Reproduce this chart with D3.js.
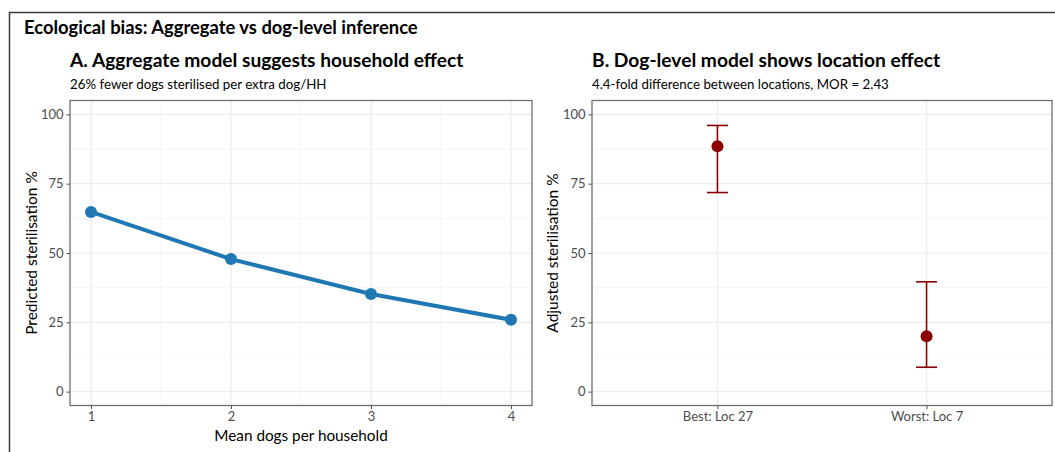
<!DOCTYPE html>
<html><head><meta charset="utf-8">
<script src="https://cdn.jsdelivr.net/npm/d3@7"></script>
<style>body{margin:0;background:#fff}svg{display:block}text{font-family:Lato,"Open Sans",sans-serif}</style>
</head><body>
<svg id="c" width="1055" height="452"></svg>
<script>
// ---- data ----
const dogsPerHH = [1, 2, 3, 4];
const predictedSter = [64.8, 47.8, 35.2, 25.9];
const locations = ["Best: Loc 27", "Worst: Loc 7"];
const adjustedSter = [88.5, 20.0];
const adjLower = [71.8, 8.8];
const adjUpper = [96.0, 39.6];
const yTicks = [0, 25, 50, 75, 100];
const yMinor = [12.5, 37.5, 62.5, 87.5];
const xTicksA = [1, 2, 3, 4];
const xMinorA = [1.5, 2.5, 3.5];

const svg = d3.select("#c");
const blue = "#1f78b4", red = "#8b0000";
const gridCol = "#ebebeb", borderCol = "#6e6e6e", tickCol = "#4d4d4d";

// outer frame (cropped)
svg.append("path").attr("d","M9.5,460 V12.5 H1060").attr("fill","none").attr("stroke","#3a3a3a").attr("stroke-width",1.5);

svg.append("text").attr("x",24).attr("y",33.5).attr("font-size",18.4).attr("font-weight",700).attr("fill","#000")
  .text("Ecological bias: Aggregate vs dog-level inference");

function panel(o){
  const g = svg.append("g");
  const {x0,x1,y0,y1} = o;
  const y = d3.scaleLinear().domain([-5,105]).range([y1,y0]);
  // grid
  g.selectAll(".ym").data(yMinor).join("line").attr("x1",x0).attr("x2",x1)
    .attr("y1",d=>y(d)).attr("y2",d=>y(d)).attr("stroke","#f4f4f4").attr("stroke-width",0.8);
  (o.xMinor||[]).forEach(v=>g.append("line").attr("x1",o.x(v)).attr("x2",o.x(v)).attr("y1",y0).attr("y2",y1).attr("stroke","#f4f4f4").attr("stroke-width",0.8));
  g.selectAll(".yM").data(yTicks).join("line").attr("x1",x0).attr("x2",x1)
    .attr("y1",d=>y(d)).attr("y2",d=>y(d)).attr("stroke",gridCol).attr("stroke-width",1.2);
  o.xMajor.forEach(v=>g.append("line").attr("x1",o.x(v)).attr("x2",o.x(v)).attr("y1",y0).attr("y2",y1).attr("stroke",gridCol).attr("stroke-width",1.2));
  // axes
  const ya = g.append("g").attr("transform",`translate(${x0},0)`).call(d3.axisLeft(y).tickValues(yTicks).tickSize(3.5).tickPadding(3));
  ya.select(".domain").remove();
  ya.selectAll("line").attr("stroke",tickCol);
  ya.selectAll("text").attr("font-size",13).attr("fill",tickCol).attr("font-family","Lato,sans-serif");
  const xa = g.append("g").attr("transform",`translate(0,${y1})`).call(o.xAxis.tickSize(3.5).tickPadding(3));
  xa.select(".domain").remove();
  xa.selectAll("line").attr("stroke",tickCol);
  xa.selectAll("text").attr("font-size",13).attr("fill",tickCol).attr("font-family","Lato,sans-serif");
  // titles
  svg.append("text").attr("x",x0).attr("y",y0-33.5).attr("font-size",19.2).attr("font-weight",700).text(o.title);
  svg.append("text").attr("x",x0).attr("y",y0-11.5).attr("font-size",13.3).text(o.sub);
  svg.append("text").attr("transform",`translate(${o.ytx},${(y0+y1)/2}) rotate(-90)`).attr("text-anchor","middle")
    .attr("font-size",15.5).text(o.ytitle);
  if(o.xtitle) svg.append("text").attr("x",(x0+x1)/2).attr("y",y1+35.5).attr("text-anchor","middle").attr("font-size",15.3).text(o.xtitle);
  o.draw(g,y);
  g.append("rect").attr("x",x0).attr("y",y0).attr("width",x1-x0).attr("height",y1-y0)
    .attr("fill","none").attr("stroke",borderCol).attr("stroke-width",1.3);
}

// Panel A
const xA = d3.scaleLinear().domain([0.85,4.15]).range([70,532]);
panel({x0:70,x1:532,y0:100.5,y1:405.5,x:xA,xMajor:xTicksA,xMinor:xMinorA,
  xAxis:d3.axisBottom(xA).tickValues(xTicksA).tickFormat(d3.format("d")),
  title:"A. Aggregate model suggests household effect",
  sub:"26% fewer dogs sterilised per extra dog/HH",
  ytitle:"Predicted sterilisation %", ytx:37, xtitle:"Mean dogs per household",
  draw:(g,y)=>{
    const pts = dogsPerHH.map((d,i)=>[xA(d),y(predictedSter[i])]);
    g.append("path").attr("d",d3.line()(pts)).attr("fill","none").attr("stroke",blue).attr("stroke-width",4).attr("stroke-linejoin","round");
    g.selectAll(".pa").data(pts).join("circle").attr("cx",d=>d[0]).attr("cy",d=>d[1]).attr("r",6).attr("fill",blue);
  }});

// Panel B
const xB = d3.scalePoint().domain(locations).range([592+0.6*460/2.2, 1052-0.6*460/2.2]);
panel({x0:592,x1:1052,y0:100.5,y1:405.5,x:xB,xMajor:locations,
  xAxis:d3.axisBottom(xB),
  title:"B. Dog-level model shows location effect",
  sub:"4.4-fold difference between locations, MOR = 2.43",
  ytitle:"Adjusted sterilisation %", ytx:558,
  draw:(g,y)=>{
    const cw = 10.5;
    locations.forEach((l,i)=>{
      const cx = xB(l);
      g.append("line").attr("x1",cx).attr("x2",cx).attr("y1",y(adjLower[i])).attr("y2",y(adjUpper[i])).attr("stroke",red).attr("stroke-width",1.6);
      [adjLower[i],adjUpper[i]].forEach(v=>g.append("line").attr("x1",cx-cw).attr("x2",cx+cw).attr("y1",y(v)).attr("y2",y(v)).attr("stroke",red).attr("stroke-width",1.6));
      g.append("circle").attr("cx",cx).attr("cy",y(adjustedSter[i])).attr("r",6).attr("fill",red);
    });
  }});
</script>
</body></html>
